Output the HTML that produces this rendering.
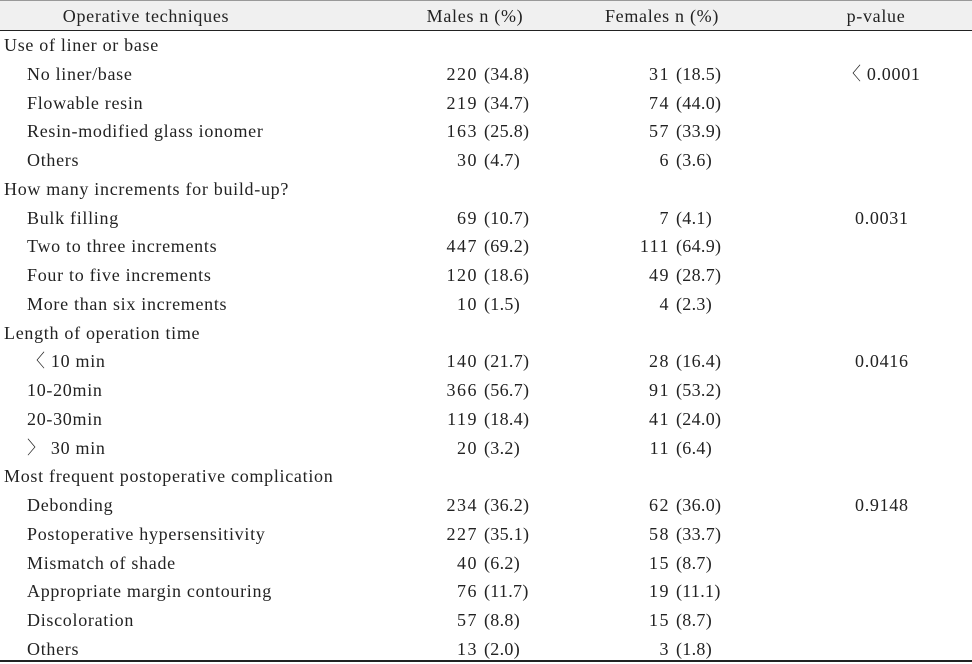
<!DOCTYPE html>
<html><head><meta charset="utf-8"><style>
body{margin:0;width:972px;height:664px;background:#fff;position:relative;overflow:hidden;font-family:"Liberation Serif","Noto Serif CJK SC",serif;font-size:18px;letter-spacing:0.7px;color:#222}
.hd{position:absolute;left:0;top:0;width:972px;height:31px;background:#f0f0f0;border-top:1px solid #999;border-bottom:1.5px solid #222;box-sizing:border-box}
.bl{position:absolute;left:0;top:660px;width:972px;height:2px;background:#222}
.r{position:absolute;left:0;width:972px;height:29px;line-height:29px;white-space:nowrap}
.r span{position:absolute}
.r span.h{width:300px;text-align:center}
.c{left:4px}.s{left:27px}
.ma{right:494px;letter-spacing:1.5px}.mb{left:484px;letter-spacing:0.3px}
.fa{right:302px;letter-spacing:1.5px}.fb{left:676px;letter-spacing:0.3px}
.p{left:855px}.p2{left:843px}
</style></head><body>
<div class="hd"></div>
<div class="r" style="top:2px"><span class="h" style="left:-4px">Operative techniques</span><span class="h" style="left:325px">Males n (%)</span><span class="h" style="left:512px">Females n (%)</span><span class="h" style="left:726px">p-value</span></div>
<div class="r" style="top:31px"><span class="c">Use of liner or base</span></div>
<div class="r" style="top:59.8px"><span class="s">No liner/base</span><span class="ma">220</span><span class="mb">(34.8)</span><span class="fa">31</span><span class="fb">(18.5)</span><span class="p2">〈 0.0001</span></div>
<div class="r" style="top:88.5px"><span class="s">Flowable resin</span><span class="ma">219</span><span class="mb">(34.7)</span><span class="fa">74</span><span class="fb">(44.0)</span></div>
<div class="r" style="top:117.3px"><span class="s">Resin-modified glass ionomer</span><span class="ma">163</span><span class="mb">(25.8)</span><span class="fa">57</span><span class="fb">(33.9)</span></div>
<div class="r" style="top:146px"><span class="s">Others</span><span class="ma">30</span><span class="mb">(4.7)</span><span class="fa">6</span><span class="fb">(3.6)</span></div>
<div class="r" style="top:174.8px"><span class="c">How many increments for build-up?</span></div>
<div class="r" style="top:203.6px"><span class="s">Bulk filling</span><span class="ma">69</span><span class="mb">(10.7)</span><span class="fa">7</span><span class="fb">(4.1)</span><span class="p">0.0031</span></div>
<div class="r" style="top:232.3px"><span class="s">Two to three increments</span><span class="ma">447</span><span class="mb">(69.2)</span><span class="fa">111</span><span class="fb">(64.9)</span></div>
<div class="r" style="top:261.1px"><span class="s">Four to five increments</span><span class="ma">120</span><span class="mb">(18.6)</span><span class="fa">49</span><span class="fb">(28.7)</span></div>
<div class="r" style="top:289.8px"><span class="s">More than six increments</span><span class="ma">10</span><span class="mb">(1.5)</span><span class="fa">4</span><span class="fb">(2.3)</span></div>
<div class="r" style="top:318.6px"><span class="c">Length of operation time</span></div>
<div class="r" style="top:347.4px"><span class="s">〈 10 min</span><span class="ma">140</span><span class="mb">(21.7)</span><span class="fa">28</span><span class="fb">(16.4)</span><span class="p">0.0416</span></div>
<div class="r" style="top:376.1px"><span class="s">10-20min</span><span class="ma">366</span><span class="mb">(56.7)</span><span class="fa">91</span><span class="fb">(53.2)</span></div>
<div class="r" style="top:404.9px"><span class="s">20-30min</span><span class="ma">119</span><span class="mb">(18.4)</span><span class="fa">41</span><span class="fb">(24.0)</span></div>
<div class="r" style="top:433.6px"><span class="s">〉 30 min</span><span class="ma">20</span><span class="mb">(3.2)</span><span class="fa">11</span><span class="fb">(6.4)</span></div>
<div class="r" style="top:462.4px"><span class="c">Most frequent postoperative complication</span></div>
<div class="r" style="top:491.2px"><span class="s">Debonding</span><span class="ma">234</span><span class="mb">(36.2)</span><span class="fa">62</span><span class="fb">(36.0)</span><span class="p">0.9148</span></div>
<div class="r" style="top:519.9px"><span class="s">Postoperative hypersensitivity</span><span class="ma">227</span><span class="mb">(35.1)</span><span class="fa">58</span><span class="fb">(33.7)</span></div>
<div class="r" style="top:548.7px"><span class="s">Mismatch of shade</span><span class="ma">40</span><span class="mb">(6.2)</span><span class="fa">15</span><span class="fb">(8.7)</span></div>
<div class="r" style="top:577.4px"><span class="s">Appropriate margin contouring</span><span class="ma">76</span><span class="mb">(11.7)</span><span class="fa">19</span><span class="fb">(11.1)</span></div>
<div class="r" style="top:606.2px"><span class="s">Discoloration</span><span class="ma">57</span><span class="mb">(8.8)</span><span class="fa">15</span><span class="fb">(8.7)</span></div>
<div class="r" style="top:635px"><span class="s">Others</span><span class="ma">13</span><span class="mb">(2.0)</span><span class="fa">3</span><span class="fb">(1.8)</span></div>
<div class="bl"></div>
</body></html>
